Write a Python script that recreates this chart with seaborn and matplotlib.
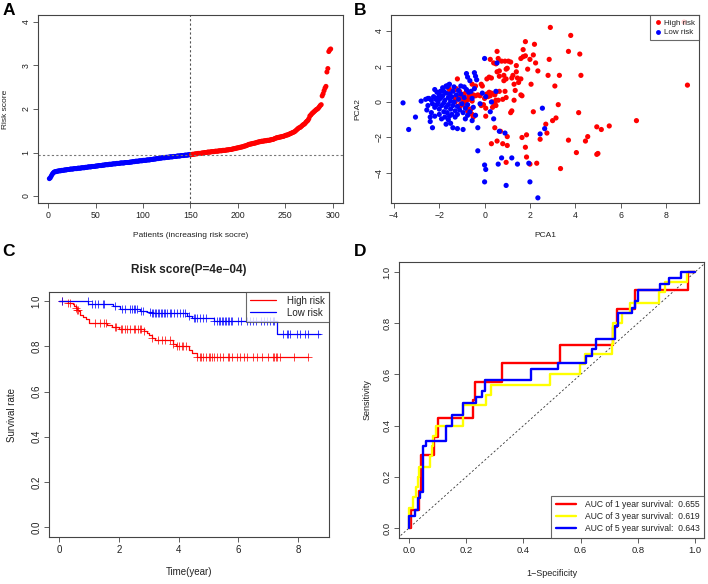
import numpy as np
import pandas as pd
import matplotlib
matplotlib.use('Agg')
import matplotlib.pyplot as plt
import seaborn as sns

sns.set_theme(style='ticks')
plt.rcParams['font.family'] = ['Liberation Sans', 'DejaVu Sans']

# ---------- A: sorted risk score ----------
risk_low = [0.40, 0.42, 0.46, 0.50, 0.53, 0.55, 0.56, 0.56, 0.57, 0.57,
            0.58, 0.58, 0.58, 0.59, 0.59, 0.59, 0.60, 0.60, 0.60, 0.61,
            0.61, 0.61, 0.62, 0.62, 0.62, 0.62, 0.63, 0.63, 0.63, 0.63,
            0.64, 0.64, 0.64, 0.64, 0.65, 0.65, 0.65, 0.65, 0.66, 0.66,
            0.66, 0.67, 0.67, 0.67, 0.67, 0.68, 0.68, 0.68, 0.68, 0.69,
            0.69, 0.69, 0.70, 0.70, 0.70, 0.70, 0.71, 0.71, 0.71, 0.72,
            0.72, 0.72, 0.72, 0.73, 0.73, 0.73, 0.73, 0.74, 0.74, 0.74,
            0.74, 0.75, 0.75, 0.75, 0.75, 0.76, 0.76, 0.76, 0.76, 0.76,
            0.77, 0.77, 0.77, 0.77, 0.77, 0.78, 0.78, 0.78, 0.79, 0.79,
            0.79, 0.80, 0.80, 0.80, 0.80, 0.81, 0.81, 0.81, 0.81, 0.82,
            0.82, 0.82, 0.82, 0.83, 0.83, 0.83, 0.83, 0.84, 0.84, 0.84,
            0.85, 0.85, 0.85, 0.86, 0.86, 0.86, 0.87, 0.87, 0.87, 0.88,
            0.88, 0.88, 0.88, 0.89, 0.89, 0.89, 0.89, 0.90, 0.90, 0.90,
            0.90, 0.91, 0.91, 0.91, 0.91, 0.92, 0.92, 0.92, 0.92, 0.93,
            0.93, 0.93, 0.93, 0.94, 0.94, 0.94, 0.94, 0.95, 0.95, 0.95]
risk_high = [0.95, 0.96, 0.96, 0.96, 0.97, 0.97, 0.97, 0.98, 0.98, 0.98,
             0.98, 0.99, 0.99, 0.99, 1.00, 1.00, 1.00, 1.01, 1.01, 1.01,
             1.01, 1.02, 1.02, 1.02, 1.02, 1.03, 1.03, 1.03, 1.03, 1.04,
             1.04, 1.04, 1.04, 1.05, 1.05, 1.05, 1.05, 1.06, 1.06, 1.06,
             1.07, 1.07, 1.07, 1.08, 1.08, 1.09, 1.09, 1.10, 1.10, 1.11,
             1.11, 1.12, 1.12, 1.13, 1.13, 1.14, 1.15, 1.15, 1.16, 1.17,
             1.18, 1.19, 1.19, 1.20, 1.20, 1.21, 1.21, 1.22, 1.22, 1.23,
             1.24, 1.24, 1.25, 1.25, 1.26, 1.26, 1.26, 1.27, 1.27, 1.27,
             1.28, 1.28, 1.28, 1.29, 1.29, 1.30, 1.30, 1.31, 1.32, 1.33,
             1.34, 1.34, 1.35, 1.35, 1.36, 1.36, 1.37, 1.37, 1.38, 1.39,
             1.40, 1.40, 1.41, 1.42, 1.43, 1.44, 1.45, 1.46, 1.47, 1.48,
             1.50, 1.52, 1.54, 1.56, 1.57, 1.58, 1.60, 1.62, 1.64, 1.65,
             1.67, 1.70, 1.72, 1.74, 1.78, 1.84, 1.86, 1.89, 1.91, 1.93,
             1.95, 1.97, 1.99, 2.00, 2.02, 2.05, 2.08, 2.10, 2.30, 2.35,
             2.42, 2.48, 2.52, 2.85, 2.93, 3.32, 3.36, 3.38]
risk_cutoff = 0.95

# ---------- B: PCA ----------
high_pca = [(8.8, 4.5), (2.9, 4.2), (3.8, 3.75), (1.8, 3.4), (2.2, 3.25), (3.7, 2.85), (4.2, 2.7),
            (0.55, 2.85), (1.7, 2.95), (2.15, 2.65), (1.7, 2.55), (1.8, 2.6), (1.6, 2.45), (2.0, 2.4),
            (2.85, 2.4), (0.6, 2.45), (0.75, 2.3), (0.9, 2.3), (1.05, 2.3), (1.15, 2.25), (2.25, 2.2),
            (0.4, 2.2), (0.5, 2.15), (0.25, 2.4), (1.4, 2.05), (1.0, 1.9), (0.55, 1.7), (1.9, 1.85),
            (2.35, 1.75), (0.95, 1.85), (0.65, 1.75), (1.4, 1.7), (2.8, 1.5), (3.3, 1.5), (4.25, 1.5),
            (0.2, 1.4), (0.3, 1.35), (0.85, 1.5), (0.65, 1.45), (1.2, 1.35), (1.25, 1.5), (1.45, 1.35),
            (0.85, 1.2), (0.95, 1.3), (1.6, 1.3), (-1.2, 1.3), (2.05, 1.0), (3.1, 0.9), (-0.15, 1.0),
            (-0.1, 0.9), (-0.55, 1.0), (0.65, 0.6), (0.5, 0.55), (0.45, 0.4), (1.35, 0.65), (1.65, 0.35),
            (1.6, 0.4), (8.95, 0.95), (-1.6, 0.8), (-1.55, 0.7), (-1.3, 0.7), (-1.25, 0.75), (-1.1, 0.6),
            (-0.9, 0.45), (-0.8, 0.6), (-1.0, 0.35), (-1.2, 0.3), (-1.3, 0.2), (-1.0, 0.2), (-0.7, 0.35),
            (-0.6, 0.3), (-0.5, 0.4), (-0.4, 0.35), (-0.3, 0.4), (-0.2, 0.35), (-0.8, 0.1), (-0.7, 0.15),
            (-0.55, 0.05), (-0.9, 0.0), (-1.05, -0.1), (-0.9, -0.2), (-0.8, -0.3), (-0.7, -0.4),
            (-0.6, -0.4), (-0.55, -0.7), (-0.5, -0.85), (-0.6, -0.65), (-1.1, -0.25), (-1.3, 0.0),
            (0.2, 0.55), (0.3, 0.5), (0.1, 0.45), (0.0, 0.2), (0.15, 0.3), (0.25, 0.35), (0.35, 0.0),
            (0.5, 0.1), (0.6, 0.1), (0.45, -0.1), (0.5, -0.2), (0.35, -0.3), (0.05, -0.8), (0.8, 0.15),
            (0.95, 0.25), (1.2, -0.5), (1.15, -0.6), (-0.05, -0.15), (-0.15, -0.2), (0.05, -0.35),
            (0.3, -2.35), (0.55, -2.2), (0.8, -2.35), (1.0, -2.45), (1.0, -1.95), (0.7, -1.65),
            (0.45, -1.45), (1.65, -2.0), (1.85, -1.85), (1.8, -2.55), (1.85, -3.1), (2.0, -3.5),
            (2.3, -3.45), (2.45, -2.1), (0.95, -3.4), (2.7, -1.25), (2.75, -1.75), (3.0, -1.05),
            (3.15, -0.9), (3.25, -0.15), (2.15, -0.55), (3.35, -3.75), (3.7, -2.15), (4.05, -2.85),
            (4.15, -0.6), (4.45, -2.2), (4.55, -1.95), (4.95, -2.95), (5.0, -2.9), (4.95, -1.4),
            (5.15, -1.55), (5.5, -1.35), (6.7, -1.05), (-0.75, -0.5), (1.3, 0.1), (0.9, 0.6),
            (1.3, 1.0), (1.5, 1.1), (-0.4, 0.9), (0.1, 1.3)]
low_pca = [(-3.6, -0.05), (-3.05, -0.85), (-3.35, -1.55), (-2.8, 0.05), (-2.5, 0.2), (-2.55, -0.45),
           (-2.4, -0.85), (-2.4, -1.1), (-2.3, -1.45), (-2.2, 0.7), (-2.1, 0.55), (-2.0, 0.4),
           (-1.8, 0.6), (-1.7, 0.9), (-1.6, 0.95), (-1.65, 0.85), (-1.55, 1.0), (-2.6, 0.15),
           (-2.45, 0.2), (-2.35, 0.1), (-2.3, -0.1), (-2.25, 0.3), (-2.2, -0.3), (-2.15, 0.15),
           (-2.1, -0.15), (-2.05, 0.0), (-2.0, -0.4), (-1.95, 0.2), (-1.9, -0.2), (-1.85, 0.35),
           (-1.8, -0.05), (-1.8, -0.55), (-1.75, 0.1), (-1.7, -0.3), (-1.7, 0.5), (-1.65, -0.6),
           (-1.6, 0.25), (-1.6, -0.15), (-1.55, 0.45), (-1.5, -0.4), (-1.5, 0.05), (-1.45, -0.7),
           (-1.45, 0.3), (-1.4, -0.2), (-1.4, 0.6), (-1.35, 0.0), (-1.3, -0.5), (-1.3, -0.85),
           (-1.25, 0.4), (-1.2, -0.25), (-1.2, -0.7), (-1.15, 0.15), (-1.1, -0.45), (-1.05, 0.45),
           (-1.0, -0.1), (-0.95, -0.6), (-0.9, 0.25), (-0.85, -0.35), (-0.8, 0.7), (-0.75, -0.15),
           (-0.7, 0.55), (-0.65, -0.55), (-0.6, 0.6), (-0.55, 0.2), (-0.5, -0.3), (-0.45, 0.75),
           (-0.4, -0.75), (-2.5, -0.2), (-2.35, -0.6), (-2.2, -0.8), (-2.0, -0.7), (-1.9, -0.95),
           (-1.75, -0.85), (-1.6, -1.0), (-1.55, -0.8), (-1.85, 0.8), (-1.95, 0.6), (-2.05, 0.25),
           (-1.35, 0.85), (-1.15, 0.65), (-1.05, 0.9), (-0.9, 0.85), (-1.4, -1.45), (-1.2, -1.5),
           (-0.95, -1.55), (-1.7, -1.25), (-1.5, -1.2), (-0.85, -0.95), (-0.3, -1.45), (-0.3, -2.75),
           (0.0, -3.55), (0.05, -3.8), (0.0, -4.5), (0.95, -4.7), (0.6, -3.5), (0.75, -3.15),
           (1.2, -3.15), (1.45, -3.5), (1.95, -3.45), (2.0, -4.5), (2.35, -5.4), (2.45, -1.8),
           (2.65, -1.5), (2.55, -0.35), (0.9, -1.75), (0.65, -1.65), (0.4, -0.95), (0.25, -0.55),
           (0.5, 0.6), (0.0, 2.45), (0.55, 2.2), (0.05, 0.3), (-0.8, 1.6), (-0.45, 1.65),
           (-0.4, 1.45), (-0.35, 1.25), (-0.65, 1.2), (-0.75, 1.4), (-0.1, 0.5), (0.3, 0.0),
           (-0.2, -0.1), (-0.55, -1.05), (-0.75, -0.75)]

# ---------- C: Kaplan-Meier ----------
km_high_time = [0, 0.3, 0.45, 0.5, 0.55, 0.6, 0.65, 0.7, 0.8, 0.9, 1.0, 1.6, 1.75, 2.0,
                2.85, 2.95, 3.0, 3.1, 3.2, 3.8, 3.9, 4.35, 4.45, 4.6, 8.35]
km_high_surv = [1.0, 0.993, 0.985, 0.978, 0.97, 0.962, 0.955, 0.94, 0.93, 0.92, 0.905, 0.895,
                0.885, 0.875, 0.866, 0.857, 0.848, 0.838, 0.828, 0.81, 0.80, 0.785, 0.77, 0.752, 0.752]
km_high_cens = [0.1, 0.3, 0.35, 0.55, 0.6, 0.62, 1.2, 1.35, 1.5, 1.55, 1.85, 1.9, 2.05, 2.1, 2.2,
                2.25, 2.35, 2.5, 2.55, 2.65, 2.7, 2.75, 2.85, 3.1, 3.3, 3.45, 3.55, 3.7, 3.8, 3.95,
                4.0, 4.1, 4.15, 4.25, 4.61, 4.7, 4.75, 4.8, 4.9, 5.0, 5.05, 5.1, 5.2, 5.3, 5.39,
                5.5, 5.65, 5.7, 5.8, 5.95, 6.05, 6.2, 6.3, 6.5, 6.62, 6.8, 7.0, 7.15, 7.18, 7.25,
                7.3, 7.4, 7.85, 8.35]
km_low_time = [0, 0.97, 1.81, 2.04, 2.7, 2.93, 3.1, 4.27, 4.43, 5.17, 7.29, 8.75]
km_low_surv = [1.0, 0.988, 0.977, 0.966, 0.958, 0.95, 0.946, 0.935, 0.924, 0.91, 0.853, 0.853]
km_low_cens = [0.1, 0.95, 1.1, 1.2, 1.3, 1.45, 1.5, 1.85, 2.1, 2.2, 2.35, 2.45, 2.5, 2.55, 2.6,
               2.75, 2.8, 3.05, 3.1, 3.15, 3.2, 3.25, 3.3, 3.35, 3.4, 3.45, 3.5, 3.55, 3.6, 3.7,
               3.75, 3.85, 3.95, 4.05, 4.15, 4.2, 4.35, 4.5, 4.55, 4.6, 4.7, 4.8, 4.9, 5.2, 5.3,
               5.35, 5.4, 5.45, 5.5, 5.55, 5.6, 5.65, 5.7, 5.75, 5.8, 6.0, 6.1, 6.3, 6.4, 6.5,
               6.6, 6.75, 6.85, 6.95, 7.05, 7.15, 7.2, 7.5, 7.64, 7.67, 7.73, 7.97, 8.07, 8.24,
               8.34, 8.68]

# ---------- D: ROC ----------
roc1_fpr = [0, 0.007, 0.007, 0.035, 0.035, 0.042, 0.042, 0.089, 0.089, 0.103, 0.103, 0.225, 0.225,
            0.229, 0.229, 0.324, 0.324, 0.529, 0.529, 0.714, 0.714, 0.726, 0.726, 0.79, 0.79,
            0.974, 0.974, 1.0]
roc1_tpr = [0, 0, 0.071, 0.071, 0.143, 0.143, 0.286, 0.286, 0.357, 0.357, 0.429, 0.429, 0.5,
            0.5, 0.571, 0.571, 0.643, 0.643, 0.714, 0.714, 0.786, 0.786, 0.857, 0.857, 0.929,
            0.929, 1.0, 1.0]
roc3_fpr = [0, 0, 0.015, 0.015, 0.023, 0.023, 0.03, 0.03, 0.035, 0.035, 0.073, 0.073, 0.08, 0.08,
            0.085, 0.085, 0.093, 0.093, 0.19, 0.19, 0.268, 0.268, 0.287, 0.287, 0.494, 0.494,
            0.598, 0.598, 0.615, 0.615, 0.709, 0.709, 0.714, 0.714, 0.744, 0.744, 0.773, 0.773,
            0.872, 0.872, 0.895, 0.895, 0.971, 0.971, 1.0]
roc3_tpr = [0, 0.08, 0.08, 0.12, 0.12, 0.16, 0.16, 0.2, 0.2, 0.24, 0.24, 0.28, 0.28, 0.32,
            0.32, 0.36, 0.36, 0.4, 0.4, 0.48, 0.48, 0.52, 0.52, 0.56, 0.56, 0.6, 0.6, 0.64,
            0.64, 0.68, 0.68, 0.72, 0.72, 0.8, 0.8, 0.84, 0.84, 0.88, 0.88, 0.92, 0.92, 0.96,
            0.96, 1.0, 1.0]
roc5_fpr = [0, 0, 0.02, 0.02, 0.03, 0.03, 0.04, 0.04, 0.05, 0.05, 0.06, 0.06, 0.13, 0.13, 0.15,
            0.15, 0.19, 0.19, 0.235, 0.235, 0.255, 0.255, 0.265, 0.265, 0.425, 0.425, 0.52,
            0.52, 0.62, 0.62, 0.64, 0.64, 0.655, 0.655, 0.72, 0.72, 0.73, 0.73, 0.78, 0.78,
            0.79, 0.79, 0.80, 0.80, 0.876, 0.876, 0.91, 0.91, 0.951, 0.951, 1.0]
roc5_tpr = [0, 0.047, 0.047, 0.07, 0.07, 0.116, 0.116, 0.14, 0.14, 0.32, 0.32, 0.34, 0.34,
            0.40, 0.40, 0.44, 0.44, 0.49, 0.49, 0.51, 0.51, 0.535, 0.535, 0.58, 0.58, 0.62,
            0.62, 0.645, 0.645, 0.67, 0.67, 0.70, 0.70, 0.74, 0.74, 0.79, 0.79, 0.84, 0.84,
            0.86, 0.86, 0.885, 0.885, 0.93, 0.93, 0.953, 0.953, 0.977, 0.977, 1.0, 1.0]
roc_labels = ['AUC of 1 year survival:  0.655', 'AUC of 3 year survival:  0.619',
              'AUC of 5 year survival:  0.643']

TXT = '#222222'
EDGE = '#444444'


def style_axes(ax, tick_fs):
    for sp in ax.spines.values():
        sp.set_visible(True)
        sp.set_color(EDGE)
        sp.set_linewidth(0.8)
    ax.tick_params(length=3.5, width=0.6, color=EDGE, labelcolor=TXT, labelsize=tick_fs, pad=2)
    ax.tick_params(axis='y', labelrotation=90)
    for lab in ax.get_yticklabels():
        lab.set_va('center')


fig = plt.figure(figsize=(7.08, 5.84), dpi=100)

# ---- A ----
axA = fig.add_axes([38 / 708, 1 - 203 / 584, 305 / 708, 188 / 584])
dfA = pd.DataFrame({
    'patient': np.arange(1, len(risk_low) + len(risk_high) + 1),
    'risk': risk_low + risk_high,
    'group': ['low'] * len(risk_low) + ['high'] * len(risk_high),
})
sns.scatterplot(data=dfA, x='patient', y='risk', hue='group',
                palette={'low': '#0000FF', 'high': '#FF0000'}, s=13, linewidth=0,
                legend=False, ax=axA)
axA.axvline(len(risk_low), color='#555555', ls=(0, (2, 2)), lw=0.8)
axA.axhline(risk_cutoff, color='#777777', ls=(0, (2, 2)), lw=0.8)
axA.set_xlim(-11, 311)
axA.set_ylim(-0.16, 4.16)
axA.set_xticks([0, 50, 100, 150, 200, 250, 300])
axA.set_yticks([0, 1, 2, 3, 4])
axA.set_xlabel('Patients (increasing risk socre)', fontsize=6, color=TXT, labelpad=9)
axA.set_ylabel('Risk score', fontsize=6, color=TXT, labelpad=9)
style_axes(axA, 6.3)

# ---- B ----
axB = fig.add_axes([391 / 708, 1 - 203 / 584, 308 / 708, 188 / 584])
dfB = pd.DataFrame({
    'PCA1': [p[0] for p in high_pca] + [p[0] for p in low_pca],
    'PCA2': [p[1] for p in high_pca] + [p[1] for p in low_pca],
    'risk': ['High risk'] * len(high_pca) + ['Low risk'] * len(low_pca),
})
sns.scatterplot(data=dfB, x='PCA1', y='PCA2', hue='risk', hue_order=['High risk', 'Low risk'],
                palette={'High risk': '#FF0000', 'Low risk': '#0000FF'}, s=14, linewidth=0, ax=axB)
hB = axB.get_legend().legend_handles
for h in hB:
    h.set_markersize(3.5)
legB = axB.legend(hB, ['High risk', 'Low risk'], loc='upper right', fontsize=5.8,
                  frameon=True, fancybox=False, borderaxespad=0, handletextpad=0.2,
                  handlelength=1.0, borderpad=0.5, labelspacing=0.25)
legB.get_frame().set_edgecolor(EDGE)
legB.get_frame().set_linewidth(0.8)
for t in legB.get_texts():
    t.set_color(TXT)
axB.set_xlim(-4.13, 9.46)
axB.set_ylim(-5.69, 4.9)
axB.set_xticks([-4, -2, 0, 2, 4, 6, 8])
axB.set_yticks([-4, -2, 0, 2, 4])
axB.set_xlabel('PCA1', fontsize=6, color=TXT, labelpad=9)
axB.set_ylabel('PCA2', fontsize=6, color=TXT, labelpad=9)
style_axes(axB, 6.3)

# ---- C ----
axC = fig.add_axes([49 / 708, 1 - 537 / 584, 280 / 708, 245 / 584])


def km_at(times, surv, t):
    idx = np.searchsorted(times, t, side='right') - 1
    return np.array(surv)[idx]


for times, surv, cens, col, lab in [
        (km_high_time, km_high_surv, km_high_cens, '#FF0000', 'High risk'),
        (km_low_time, km_low_surv, km_low_cens, '#0000FF', 'Low risk')]:
    sns.lineplot(x=times, y=surv, drawstyle='steps-post', estimator=None, sort=False,
                 color=col, lw=0.9, label=lab, ax=axC)
    sns.scatterplot(x=cens, y=km_at(times, surv, cens), marker='+', s=26, color=col,
                    linewidth=0.7, alpha=0.75, ax=axC)
legC = axC.legend(loc='upper right', fontsize=7, frameon=True, fancybox=False,
                  borderaxespad=0, handlelength=2.6, handletextpad=1.2, borderpad=0.4,
                  labelspacing=0.2)
legC.get_frame().set_edgecolor(EDGE)
legC.get_frame().set_linewidth(0.8)
for t in legC.get_texts():
    t.set_color(TXT)
axC.set_xlim(-0.35, 9.04)
axC.set_ylim(-0.043, 1.04)
axC.set_xticks([0, 2, 4, 6, 8])
axC.set_yticks([0, 0.2, 0.4, 0.6, 0.8, 1.0])
axC.set_yticklabels(['0.0', '0.2', '0.4', '0.6', '0.8', '1.0'])
axC.set_xlabel('Time(year)', fontsize=7, color=TXT, labelpad=9)
axC.set_ylabel('Survival rate', fontsize=7, color=TXT, labelpad=10)
axC.set_title('Risk score(P=4e\u221204)', fontsize=8.5, fontweight='bold', color=TXT, pad=14)
style_axes(axC, 7)

# ---- D ----
axD = fig.add_axes([399 / 708, 1 - 538 / 584, 305 / 708, 276 / 584])
axD.plot([-0.04, 1.04], [-0.04, 1.04], color='#333333', ls=(0, (2.5, 2.5)), lw=0.6)
for fpr, tpr, col, lab in [(roc1_fpr, roc1_tpr, '#FF0000', roc_labels[0]),
                           (roc3_fpr, roc3_tpr, '#FFFF00', roc_labels[1]),
                           (roc5_fpr, roc5_tpr, '#0000FF', roc_labels[2])]:
    sns.lineplot(x=fpr, y=tpr, estimator=None, sort=False, color=col, lw=1.7, label=lab, ax=axD)
legD = axD.legend(loc='lower right', fontsize=6.2, frameon=True, fancybox=False,
                  borderaxespad=0, handlelength=2.3, handletextpad=1.0, borderpad=0.55,
                  labelspacing=0.35)
legD.get_frame().set_edgecolor(EDGE)
legD.get_frame().set_linewidth(0.8)
for t in legD.get_texts():
    t.set_color(TXT)
axD.set_xlim(-0.035, 1.031)
axD.set_ylim(-0.039, 1.039)
ticksD = [0, 0.2, 0.4, 0.6, 0.8, 1.0]
axD.set_xticks(ticksD)
axD.set_yticks(ticksD)
axD.set_xticklabels(['0.0', '0.2', '0.4', '0.6', '0.8', '1.0'])
axD.set_yticklabels(['0.0', '0.2', '0.4', '0.6', '0.8', '1.0'])
axD.set_xlabel('1\u2212Specificity', fontsize=6.5, color=TXT, labelpad=10)
axD.set_ylabel('Sensitivity', fontsize=6.5, color=TXT, labelpad=8)
style_axes(axD, 6.8)

# panel letters
for txt, x, y in [('A', 3, 3), ('B', 354, 3), ('C', 2, 244), ('D', 354, 244)]:
    fig.text(x / 708, 1 - y / 584, txt, fontsize=12.5, fontweight='bold', color='black',
             ha='left', va='top')

fig.savefig('out.png', dpi=100)
